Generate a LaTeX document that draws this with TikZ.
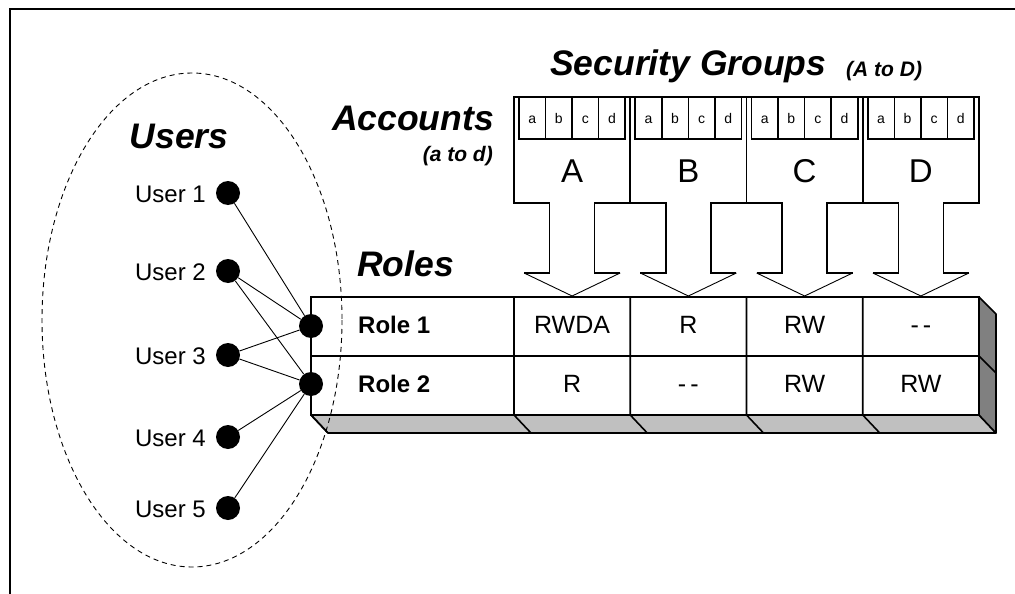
\documentclass[tikz,border=0pt]{standalone}
\usepackage{fontspec}
\setmainfont{Liberation Sans}
\definecolor{facelight}{HTML}{C0C0C0}
\definecolor{facedark}{HTML}{808080}
\begin{document}
\begin{tikzpicture}[x=1pt,y=-1pt,
  dot/.style={circle,fill=black,inner sep=0pt,minimum size=24pt},
  ulabel/.style={font=\fontsize{24}{28}\selectfont,inner sep=0pt,anchor=base east},
  heading/.style={font=\fontsize{35.5}{40}\selectfont\bfseries\itshape,inner sep=0pt},
  subheading/.style={font=\fontsize{21}{25}\selectfont\bfseries\itshape,inner sep=0pt},
  rolename/.style={font=\fontsize{24}{28}\selectfont\bfseries,inner sep=0pt,anchor=base west},
  celltext/.style={font=\fontsize{25}{29}\selectfont,inner sep=0pt,anchor=base},
  grouptext/.style={font=\fontsize{33}{38}\selectfont,inner sep=0pt,anchor=base},
  acctext/.style={font=\fontsize{14}{16}\selectfont,inner sep=0pt,anchor=base},
  thick line/.style={line width=1.6pt},
  thin line/.style={line width=0.9pt},
]
\useasboundingbox (0,0) rectangle (1015,594);

% outer frame (open at right and bottom)
\draw[line width=2pt] (10,594) -- (10,9) -- (1015,9);

% headings
\node[heading,anchor=base west] (sgtitle) at (550,76) {Security Groups};
\node[subheading,anchor=base west] (sgrange) at (846,77) {(A to D)};
\node[heading,anchor=base east] (acctitle) at (494,130) {Accounts};
\node[subheading,anchor=base east] (accrange) at (493,161) {(a to d)};
\node[heading,anchor=base] (userstitle) at (179,148) {Users};
\node[heading,anchor=base west] (rolestitle) at (357,276) {Roles};

% security group block arrows with account strips
\foreach \i/\L in {0/A,1/B,2/C,3/D} {
  \pgfmathsetmacro\xa{514+116.25*\i}
  \pgfmathsetmacro\xb{\xa+116.25}
  \pgfmathsetmacro\xm{\xa+58.125}
  \pgfmathsetmacro\sl{\xm-22.5}
  \pgfmathsetmacro\sr{\xm+22.5}
  \pgfmathsetmacro\hl{\xm-48}
  \pgfmathsetmacro\hr{\xm+48}
  \draw[thick line,line join=miter]
    (\hr,273) -- (\sr,273) -- (\sr,203) -- (\xb,203) -- (\xb,97)
    -- (\xa,97) -- (\xa,203) -- (\sl,203) -- (\sl,273) -- (\hl,273);
  \draw[thin line] (\hl,273) -- (\xm,296) -- (\hr,273);
  % account strip a..d
  \pgfmathsetmacro\ka{\xa+5}
  \draw[thick line] (\ka,97) rectangle ({\xb-5},139);
  \foreach \k/\a in {0/a,1/b,2/c,3/d} {
    \pgfmathsetmacro\kx{\ka+26.56*\k}
    \ifnum\k>0 \draw[thick line] (\kx,97) -- (\kx,139); \fi
    \node[acctext] (acc\L\a) at ({\kx+13.3},123) {\a};
  }
  \node[grouptext] (grp\L) at (\xm,182) {\L};
}

% role / permission table with 3D faces
\filldraw[fill=facelight,thick line,line join=round]
  (311,415) -- (979,415) -- (996,433) -- (328,433) -- cycle;
\filldraw[fill=facedark,thick line,line join=round]
  (979,297) -- (996,314) -- (996,433) -- (979,415) -- cycle;
\filldraw[fill=white,thick line] (311,297) rectangle (979,415);
\draw[thick line] (311,356) -- (979,356) -- (996,373);
\foreach \x in {514,630.25,746.5,862.75} {
  \draw[thick line] (\x,297) -- (\x,415) -- ({\x+17},433);
}
\draw[thick line] (311,415) -- (328,433);

% table contents
\node[rolename] (role1txt) at (358,333) {Role 1};
\node[rolename] (role2txt) at (358,392) {Role 2};
\node[celltext] (c11) at (572.1,333) {RWDA};
\node[celltext] (c12) at (688.4,333) {R};
\node[celltext] (c13) at (804.6,333) {RW};
\node[celltext] (c14) at (920.9,333) {-\,-};
\node[celltext] (c21) at (572.1,392) {R};
\node[celltext] (c22) at (688.4,392) {-\,-};
\node[celltext] (c23) at (804.6,392) {RW};
\node[celltext] (c24) at (920.9,392) {RW};

% users and roles
\node[dot] (u1) at (228,193) {};
\node[dot] (u2) at (228,271) {};
\node[dot] (u3) at (228,355) {};
\node[dot] (u4) at (228,437) {};
\node[dot] (u5) at (228,508) {};
\node[dot] (r1) at (311,326) {};
\node[dot] (r2) at (311,384) {};

\node[ulabel] (u1txt) at (206,202) {User 1};
\node[ulabel] (u2txt) at (206,280) {User 2};
\node[ulabel] (u3txt) at (206,364) {User 3};
\node[ulabel] (u4txt) at (206,446) {User 4};
\node[ulabel] (u5txt) at (206,517) {User 5};

% user-role assignments
\draw[thin line] (u1) -- (r1);
\draw[thin line] (u2) -- (r1);
\draw[thin line] (u2) -- (r2);
\draw[thin line] (u3) -- (r1);
\draw[thin line] (u3) -- (r2);
\draw[thin line] (u4) -- (r2);
\draw[thin line] (u5) -- (r2);

% user population boundary
\draw[thin line,dash pattern=on 5pt off 4pt] (192,320) ellipse [x radius=150, y radius=247];
\end{tikzpicture}
\end{document}
